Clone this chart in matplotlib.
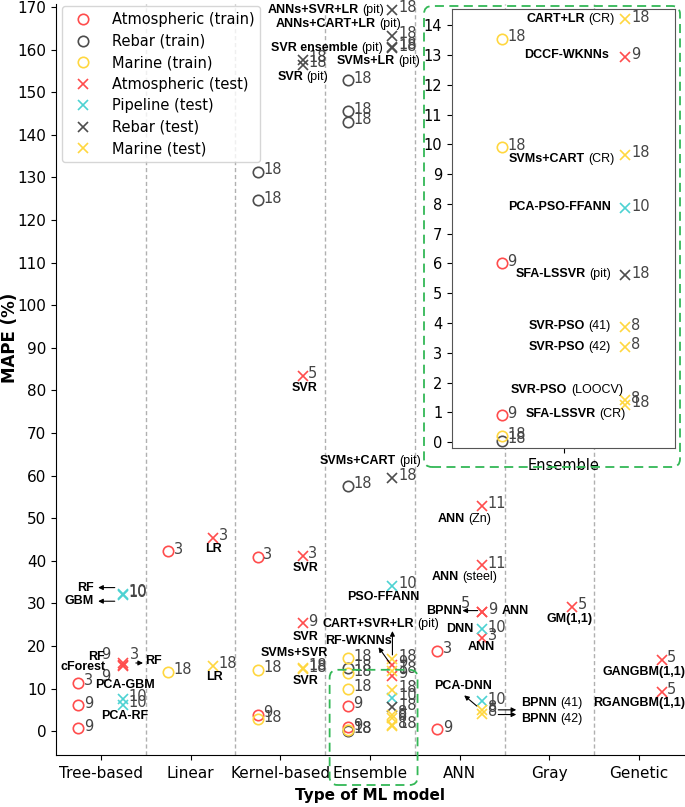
import matplotlib
matplotlib.use('Agg')
import matplotlib.pyplot as plt
from matplotlib.patches import FancyBboxPatch
from matplotlib.transforms import IdentityTransform
from matplotlib.offsetbox import TextArea, HPacker, AnnotationBbox

categories = ['Tree-based', 'Linear', 'Kernel-based', 'Ensemble', 'ANN', 'Gray', 'Genetic']

# training results (circles)
atm_train_model = ['Tree-based', 'Tree-based', 'Tree-based', 'Linear', 'Kernel-based',
                   'Kernel-based', 'Ensemble', 'Ensemble', 'ANN', 'ANN']
atm_train_mape = [11.3, 6.1, 0.7, 42.2, 40.9, 3.8, 6.0, 0.9, 18.8, 0.4]
atm_train_ref = [3, 9, 9, 3, 3, 9, 9, 9, 3, 9]

rebar_train_model = ['Kernel-based'] * 2 + ['Ensemble'] * 6
rebar_train_mape = [131.3, 124.6, 152.8, 145.5, 143.1, 57.6, 14.8, 0.05]
rebar_train_ref = [18] * 8

marine_train_model = ['Linear', 'Kernel-based', 'Kernel-based'] + ['Ensemble'] * 4
marine_train_mape = [14.0, 14.4, 2.8, 17.1, 13.55, 9.9, 0.2]
marine_train_ref = [18] * 7

# test results (crosses)
atm_test_model = (['Tree-based'] * 3 + ['Linear'] + ['Kernel-based'] * 3 + ['Ensemble'] * 2
                  + ['ANN'] * 5 + ['Gray'] + ['Genetic'] * 2)
atm_test_mape = [16.0, 15.2, 15.6, 45.4, 83.4, 41.1, 25.3, 15.6, 12.95,
                 52.9, 38.9, 28.0, 28.0, 21.9, 29.2, 16.7, 9.3]
atm_test_ref = [9, 9, 3, 3, 5, 3, 9, 9, 9, 11, 11, 5, 9, 3, 5, 5, 5]

pipe_test_model = ['Tree-based'] * 4 + ['Ensemble'] * 2 + ['ANN'] * 2
pipe_test_mape = [32.0, 32.3, 7.6, 6.2, 34.1, 7.85, 23.9, 7.0]
pipe_test_ref = [10] * 8

rebar_test_model = ['Kernel-based'] * 2 + ['Ensemble'] * 6
rebar_test_mape = [157.6, 156.4, 169.3, 163.2, 160.6, 160.3, 59.5, 5.6]
rebar_test_ref = [18] * 8

marine_test_model = ['Linear'] + ['Kernel-based'] * 2 + ['Ensemble'] * 7 + ['ANN'] * 2
marine_test_mape = [15.4, 14.9, 14.5, 17.0, 14.2, 9.66, 3.86, 3.2, 1.4, 1.25, 5.0, 4.1]
marine_test_ref = [18, 18, 18, 18, 18, 18, 8, 8, 8, 18, 8, 8]

RED, GREY, YEL, CYAN = '#ff4d4d', '#4d4d4d', '#ffd740', '#4dd2d2'
series = [
    ('Atmospheric (train)', atm_train_model, atm_train_mape, atm_train_ref, 'o', RED),
    ('Rebar (train)', rebar_train_model, rebar_train_mape, rebar_train_ref, 'o', GREY),
    ('Marine (train)', marine_train_model, marine_train_mape, marine_train_ref, 'o', YEL),
    ('Atmospheric (test)', atm_test_model, atm_test_mape, atm_test_ref, 'x', RED),
    ('Pipeline (test)', pipe_test_model, pipe_test_mape, pipe_test_ref, 'x', CYAN),
    ('Rebar (test)', rebar_test_model, rebar_test_mape, rebar_test_ref, 'x', GREY),
    ('Marine (test)', marine_test_model, marine_test_mape, marine_test_ref, 'x', YEL),
]

# manual offsets (points) for overlapping reference numbers
special = {('Atmospheric (test)', 0): (-9, 6), ('Atmospheric (test)', 1): (-9, -7),
           ('Atmospheric (test)', 2): (5, 7), ('Atmospheric (test)', 11): (-9, 6)}

NUM_COLOR = '#444444'
LAB_FONT = 'Liberation Sans'


def draw_series(ax, legend=False):
    for name, models, mape, refs, mk, col in series:
        off = -0.25 if mk == 'o' else 0.25
        xs = [categories.index(m) + off for m in models]
        ax.plot(xs, mape, ls='none', marker=mk, ms=7.5, mew=1.2, mfc='none', mec=col,
                label=name if legend else None)
        for i, (x, y, r) in enumerate(zip(xs, mape, refs)):
            dx, dy = special.get((name, i), (4, 1.5))
            ax.annotate(str(r), (x, y), xytext=(dx, dy), textcoords='offset points',
                        ha='left' if dx > 0 else 'right', va='center', fontsize=10.5,
                        color=NUM_COLOR)


def method(ax, x, y, bold, extra='', ha='center', size=9):
    parts = [TextArea(bold, textprops=dict(fontweight='bold', fontsize=size, family=LAB_FONT))]
    if extra:
        parts.append(TextArea(extra, textprops=dict(fontsize=size, family=LAB_FONT)))
    box = HPacker(children=parts, align='baseline', pad=0, sep=2.5)
    ax.add_artist(AnnotationBbox(box, (x, y), xycoords='data', frameon=False, pad=0,
                                 box_alignment=({'left': 0, 'center': 0.5, 'right': 1}[ha], 0.5),
                                 annotation_clip=False))


def arrow(ax, tail, head):
    ax.annotate('', xy=head, xytext=tail,
                arrowprops=dict(arrowstyle='-|>', color='k', lw=0.8, mutation_scale=7,
                                shrinkA=0, shrinkB=0))


W, H = 685, 807
fig = plt.figure(figsize=(W / 100, H / 100), dpi=100)
ax_l, ax_r, ax_t, ax_b = 56, 684, 4, 755
ax = fig.add_axes([ax_l / W, (H - ax_b) / H, (ax_r - ax_l) / W, (ax_b - ax_t) / H])
for k in range(len(categories) - 1):
    ax.axvline(k + 0.5, color='#b0b0b0', ls=(0, (3, 2)), lw=1, zorder=0)
draw_series(ax, legend=True)
ax.set_xlim(-0.5, 6.5)
ax.set_ylim(-5.6, 170.7)
ax.set_yticks(range(0, 171, 10))
ax.set_xticks(range(len(categories)))
ax.set_xticklabels(categories)
ax.tick_params(labelsize=11)
ax.tick_params(axis='x', pad=4.5)
ax.spines['top'].set_visible(False)
ax.spines['right'].set_visible(False)
ax.set_xlabel('Type of ML model', fontweight='bold', fontsize=11, labelpad=5)
ax.set_ylabel('MAPE (%)', fontweight='bold', fontsize=12)
ax.yaxis.set_label_coords(-0.059, 0.555)
ax.legend(loc='upper left', bbox_to_anchor=(0.01, 0.997), borderaxespad=0,
          fontsize=10.5, handletextpad=1.0, labelspacing=0.45)

# method names, main axes
method(ax, 3.16, 169.3, 'ANNs+SVR+LR', '(pit)', 'right')
method(ax, 3.34, 166.1, 'ANNs+CART+LR', '(pit)', 'right')
method(ax, 3.15, 160.4, 'SVR ensemble', '(pit)', 'right')
method(ax, 2.63, 157.3, 'SVMs+LR', '(pit)', 'left')
method(ax, 2.25, 153.5, 'SVR', '(pit)')
method(ax, 2.27, 80.5, 'SVR')
method(ax, 2.28, 38.2, 'SVR')
method(ax, 3.0, 63.5, 'SVMs+CART', '(pit)')
method(ax, 3.15, 31.6, 'PSO-FFANN')
method(ax, -0.08, 33.7, 'RF', ha='right')
method(ax, -0.08, 30.5, 'GBM', ha='right')
arrow(ax, (0.155, 33.7), (-0.03, 33.7))
arrow(ax, (0.155, 30.5), (-0.03, 30.5))
method(ax, 0.045, 17.4, 'RF', ha='right')
method(ax, 0.055, 15.1, 'cForest', ha='right')
arrow(ax, (0.39, 16.0), (0.47, 16.0))
method(ax, 0.49, 16.5, 'RF', ha='left')
method(ax, 0.27, 10.8, 'PCA-GBM')
method(ax, 0.27, 3.6, 'PCA-RF')
method(ax, 1.26, 42.7, 'LR')
method(ax, 1.27, 12.6, 'LR')
method(ax, 2.28, 22.2, 'SVR')
method(ax, 2.16, 18.3, 'SVMs+SVR')
method(ax, 2.28, 11.8, 'SVR')
method(ax, 3.12, 25.1, 'CART+SVR+LR', '(pit)')
arrow(ax, (3.25, 17.9), (3.25, 23.5))
method(ax, 2.87, 21.2, 'RF-WKNNs')
arrow(ax, (3.22, 16.0), (3.095, 19.7))
method(ax, 4.05, 49.9, 'ANN', '(Zn)')
method(ax, 4.05, 36.2, 'ANN', '(steel)')
method(ax, 4.02, 28.3, 'BPNN', ha='right')
arrow(ax, (4.2, 28.3), (4.03, 28.3))
method(ax, 4.47, 28.3, 'ANN', ha='left')
method(ax, 4.15, 23.9, 'DNN', ha='right')
method(ax, 4.24, 19.7, 'ANN')
method(ax, 4.04, 10.6, 'PCA-DNN')
arrow(ax, (4.19, 5.9), (4.05, 8.4))
method(ax, 4.68, 6.5, 'BPNN', '(41)', 'left')
method(ax, 4.68, 2.8, 'BPNN', '(42)', 'left')
arrow(ax, (4.43, 5.0), (4.63, 5.0))
arrow(ax, (4.43, 3.9), (4.63, 3.9))
method(ax, 5.22, 26.4, 'GM(1,1)')
method(ax, 6.05, 14.0, 'GANGBM(1,1)')
method(ax, 6.0, 6.6, 'RGANGBM(1,1)')

# zoomed view of the low Ensemble values
ins = fig.add_axes([452 / W, (H - 448) / H, 223 / W, 439 / H])
draw_series(ins)
ins.set_xlim(2.55, 3.45)
ins.set_ylim(-0.2, 14.55)
ins.set_yticks(range(0, 15))
ins.set_xticks([3])
ins.set_xticklabels(['Ensemble'])
ins.tick_params(labelsize=10.5)
for s in ins.spines.values():
    s.set_color('#555555')
method(ins, 3.206, 14.2, 'CART+LR', '(CR)', 'right')
method(ins, 3.185, 13.0, 'DCCF-WKNNs', ha='right')
method(ins, 3.206, 9.5, 'SVMs+CART', '(CR)', 'right')
method(ins, 3.19, 7.9, 'PCA-PSO-FFANN', ha='right')
method(ins, 3.19, 5.65, 'SFA-LSSVR', '(pit)', 'right')
method(ins, 3.19, 3.9, 'SVR-PSO', '(41)', 'right')
method(ins, 3.19, 3.2, 'SVR-PSO', '(42)', 'right')
method(ins, 3.24, 1.74, 'SVR-PSO', '(LOOCV)', 'right')
method(ins, 3.25, 0.94, 'SFA-LSSVR', '(CR)', 'right')

# green dashed frames: the inset and the region of the main axes it magnifies
GREEN = '#33b856'
sx0, sy0 = ax.transData.transform((2.55, 14.4))
sx1 = ax.transData.transform((3.53, 0))[0]
sy1 = (H - ax_b) - 30
frames = [(424, H - 467, 256, 461), (sx0, sy1, sx1 - sx0, sy0 - sy1)]
for (x0, y0, w, h) in frames:
    fig.add_artist(FancyBboxPatch((x0, y0), w, h, boxstyle='round,pad=0,rounding_size=8',
                                  transform=IdentityTransform(), fill=False,
                                  ec=GREEN, lw=1.3, ls=(0, (5, 3)), zorder=10))

fig.savefig('out.png', dpi=100)
